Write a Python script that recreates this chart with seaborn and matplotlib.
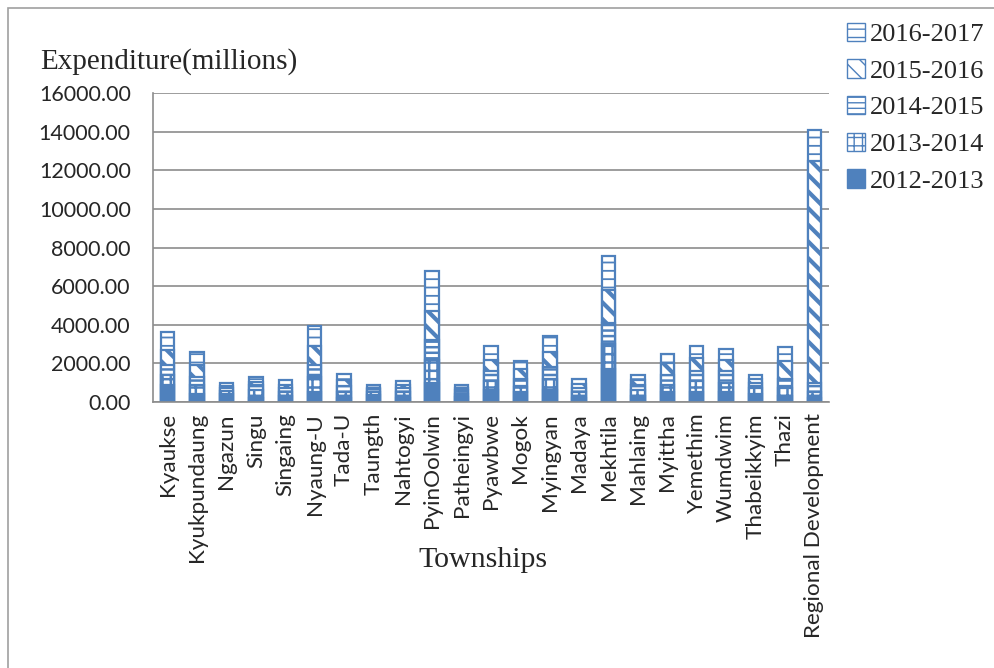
import seaborn as sns
import matplotlib.pyplot as plt
import matplotlib.patches as mpatches
import numpy as np
import pandas as pd

townships = ['Kyaukse', 'Kyukpundaung', 'Ngazun', 'Singu', 'Singaing', 'Nyaung-U', 'Tada-U',
             'Taungth', 'Nahtogyi', 'PyinOolwin', 'Patheingyi', 'Pyawbwe', 'Mogok', 'Myingyan',
             'Madaya', 'Mekhtila', 'Mahlaing', 'Myittha', 'Yemethim', 'Wumdwim', 'Thabeikkyim',
             'Thazi', 'Regional Development']
years = ['2012-2013', '2013-2014', '2014-2015', '2015-2016', '2016-2017']

y2012 = [900, 400, 400, 200, 300, 500, 200, 350, 200, 1000, 250, 600, 500, 600, 200, 1700, 300, 500, 500, 500, 400, 300, 200]
y2013 = [500, 500, 150, 400, 200, 800, 300, 150, 300, 1200, 150, 500, 300, 600, 300, 1300, 300, 400, 600, 500, 300, 400, 300]
y2014 = [500, 400, 200, 300, 250, 600, 350, 150, 250, 1000, 200, 500, 400, 600, 200, 1100, 300, 500, 500, 600, 300, 500, 500]
y2015 = [800, 600, 100, 150, 150, 1000, 300, 100, 150, 1500, 150, 600, 500, 800, 250, 1700, 250, 600, 700, 600, 200, 900, 11500]
y2016 = [900, 700, 150, 250, 250, 1050, 300, 150, 200, 2100, 150, 700, 400, 800, 250, 1760, 250, 500, 600, 550, 200, 750, 1600]

blue = '#4F81BD'
hatches = ['', '++', '---', '\\\\', '--']
faces = [blue, 'white', 'white', 'white', 'white']
hlw = [1.0, 1.8, 1.8, 3.0, 1.3]

df = pd.DataFrame({'Township': townships, years[0]: y2012, years[1]: y2013,
                   years[2]: y2014, years[3]: y2015, years[4]: y2016})
cum = df[years].cumsum(axis=1)

sns.set_style('white')
plt.rcParams['font.family'] = ['Lato', 'DejaVu Sans']

fig = plt.figure(figsize=(9.94, 6.68), dpi=100)
ax = fig.add_axes([153 / 994, 1 - 402 / 668, (829 - 153) / 994, (402 - 93) / 668])

# stacked bars: draw cumulative totals from the top layer down
for i in range(len(years) - 1, -1, -1):
    n0 = len(ax.patches)
    with plt.rc_context({'hatch.linewidth': hlw[i]}):
        sns.barplot(x=df['Township'], y=cum[years[i]], ax=ax, color=faces[i], width=0.46,
                    edgecolor=blue, linewidth=1.6, hatch=hatches[i], saturation=1)
    for p in ax.patches[n0:]:
        p.set_facecolor(faces[i])
        if hasattr(p, 'set_hatch_linewidth'):
            p.set_hatch_linewidth(hlw[i])

ax.set_ylim(0, 16000)
ax.set_xlim(-0.5, len(townships) - 0.5)
ax.set_yticks(np.arange(0, 16001, 2000))
ax.set_yticklabels([f'{v:.2f}' for v in np.arange(0, 16001, 2000)], fontsize=15.5)
ax.yaxis.grid(True, color='#8c8c8c', linewidth=1.2)
ax.set_axisbelow(True)
ax.tick_params(axis='y', length=6, color='#8c8c8c', width=1.2, pad=10)
ax.set_xticks(range(len(townships)))
ax.set_xticklabels(townships, rotation=90, fontsize=16.2)
ax.set_xticks(np.arange(-0.5, len(townships), 1), minor=True)
ax.tick_params(axis='x', which='major', length=0, pad=8)
ax.tick_params(axis='x', which='minor', length=7, color='#8c8c8c', width=1.2)
for s in ['top', 'right']:
    ax.spines[s].set_visible(False)
for s in ['left', 'bottom']:
    ax.spines[s].set_color('#8c8c8c')
    ax.spines[s].set_linewidth(1.2)
ax.set_xlabel('')
ax.set_ylabel('')

serif = ['Liberation Serif', 'DejaVu Serif']
fig.text(40 / 994, 1 - 62 / 668, 'Expenditure(millions)', family=serif, fontsize=21, va='center')
fig.text(483 / 994, 1 - 560 / 668, 'Townships', family=serif, fontsize=21.5, ha='center', va='center')

handles = [mpatches.Patch(facecolor=faces[i], edgecolor=blue, hatch=hatches[i], label=years[i])
           for i in range(len(years) - 1, -1, -1)]
fig.legend(handles=handles, loc='upper left', bbox_to_anchor=(836 / 994, 1 - 12 / 668),
           frameon=False, prop={'family': serif, 'size': 19}, handlelength=0.7, handleheight=0.7,
           handletextpad=0.2, labelspacing=0.5, borderaxespad=0)

fig.add_artist(mpatches.Rectangle((8 / 994, -0.05), 1.1, 1 - 8 / 668 + 0.05, transform=fig.transFigure,
                                  fill=False, edgecolor='#a0a0a0', linewidth=1.2))

fig.savefig('out.png', dpi=100)
